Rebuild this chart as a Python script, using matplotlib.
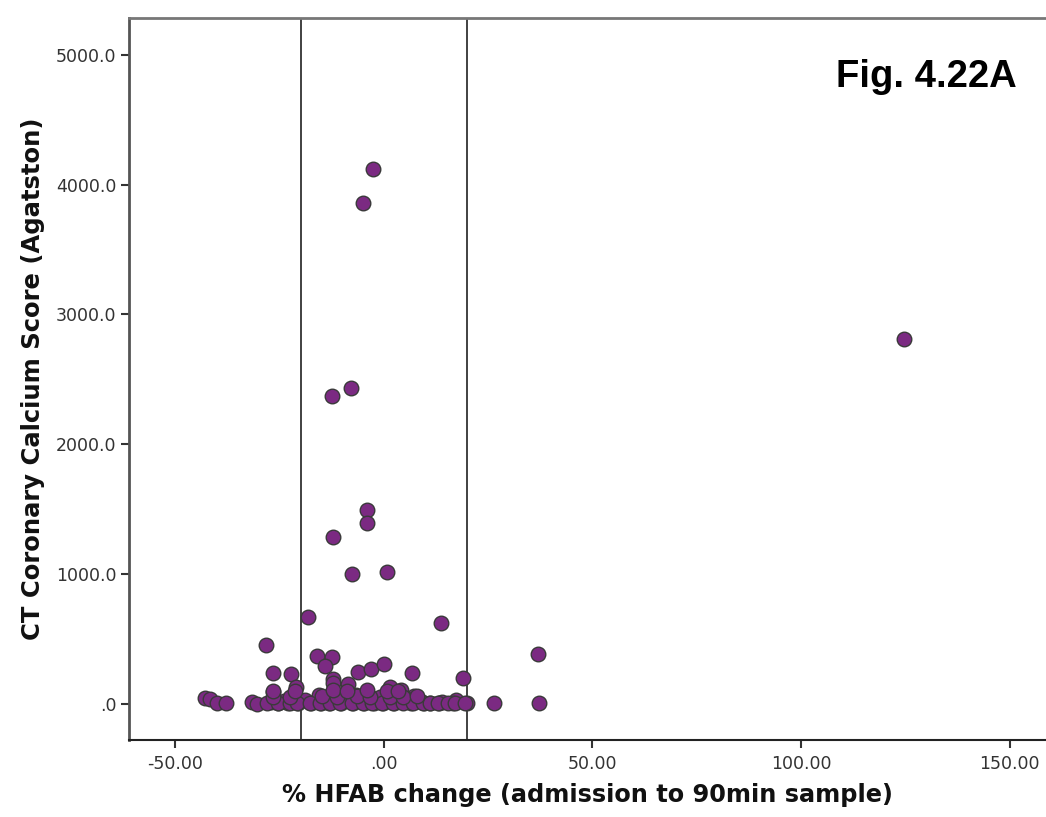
# HFAB change vs CT coronary calcium score scatter

from matplotlib import pyplot as plt

# values
hfab_big = [-2.7, -5.1, 124.7, -8.0, -12.5, -4.1, -4.1, -12.3, 0.7, -7.7,
            -18.1, 13.7, -28.4, 36.9, 37.2]
cac_big = [4122, 3860, 2812, 2435, 2373, 1495, 1394, 1287, 1017, 1002,
           670, 624, 455, 385, 8]

hfab_mid = [-16.1, -12.5, -14.2, -26.7, -22.2, -6.3, -3.1, 0.0, 6.7, -12.3,
            -12.3, -8.7, -21.2, -26.5, 19.0, 1.4, 4.1, 7.2, 17.3, 26.5]
cac_mid = [370, 362, 293, 239, 231, 247, 270, 308, 239, 193,
           162, 154, 131, 92, 200, 131, 108, 62, 31, 8]

hfab_low = [-42.9, -41.7, -40.0, -37.8, -31.6, -30.4, -27.2, -25.3,
            -22.9, -20.5, -17.6, -15.2, -13.3, -10.4, -7.5, -4.8, -2.4,
            -0.2, 2.4, 6.5, 9.6, 13.3, 16.6, 19.8,
            -15.7, -11.6, -6.7, -3.9,
            -19.0, -9.0, -1.0, 3.0, 9.0, 11.0, -24.0, -5.0, 5.0, -14.0, 14.0]
cac_low = [46, 39, 8, 8, 15, 0, 15, 8,
           5, 3, 6, 2, 8, 4, 3, 7, 2,
           5, 3, 6, 2, 4, 3, 5,
           69, 69, 69, 69,
           30, 40, 50, 20, 15, 5, 20, 25, 45, 50, 10]

hfab_row = [-28.1, -25.4, -22.5, -20.9, -17.7, -15.3, -12.9, -10.6, -7.7,
            -5.0, -2.9, -0.5, 2.2, 4.6, 7.0, 9.4, 11.0, 12.9, 15.3, 17.0, 19.4,
            -26.6, -22.5, -14.9, -11.3, -6.5, -3.4, 1.4, 4.6, 7.9,
            -26.6, -21.3, -12.2, -8.9, -4.1, 0.7, 3.4]
cac_row = [4, 6, 3, 7, 2, 5, 4, 8, 3,
           6, 2, 5, 7, 3, 4, 6, 2, 5, 3, 4, 6,
           54, 50, 56, 52, 58, 50, 54, 52, 56,
           100, 96, 104, 98, 102, 96, 100]

hfab = hfab_big + hfab_mid + hfab_low + hfab_row
cac = cac_big + cac_mid + cac_low + cac_row

ref_lines = [-20, 20]
xticks = [-50, 0, 50, 100, 150]
xticklabels = ['-50.00', '.00', '50.00', '100.00', '150.00']
yticks = [0, 1000, 2000, 3000, 4000, 5000]
yticklabels = ['.0', '1000.0', '2000.0', '3000.0', '4000.0', '5000.0']

fig = plt.figure(figsize=(10.46, 8.17), dpi=100)
ax = fig.add_axes([0.1233, 0.0943, 0.8767, 0.8837])

ax.scatter(hfab, cac, s=110, color='#7b2a82', edgecolors='#3a3a3a',
           linewidths=1.0, zorder=3)

for xv in ref_lines:
    ax.axvline(xv, color='#333333', linewidth=1.3, zorder=2)

ax.set_xlim(-61.15, 158.75)
ax.set_ylim(-280, 5285)

ax.set_xticks(xticks)
ax.set_xticklabels(xticklabels)
ax.set_yticks(yticks)
ax.set_yticklabels(yticklabels)
ax.tick_params(direction='out', length=6, width=1.5, colors='#333333',
               pad=3)
ax.tick_params(axis='x', labelsize=12.5, pad=5)
ax.tick_params(axis='y', labelsize=12.5)

ax.spines['right'].set_visible(False)
ax.spines['top'].set_color('#777777')
ax.spines['top'].set_linewidth(2)
ax.spines['left'].set_color('#555555')
ax.spines['left'].set_linewidth(2)
ax.spines['bottom'].set_color('#222222')
ax.spines['bottom'].set_linewidth(1.5)

ax.set_xlabel('% HFAB change (admission to 90min sample)', fontsize=17.3,
              fontweight='bold', color='#111111', labelpad=7)
ax.set_ylabel('CT Coronary Calcium Score (Agatston)', fontsize=17.5,
              fontweight='bold', color='#111111', labelpad=8)

fig.text(0.886, 0.906, 'Fig. 4.22A', fontsize=27.5, fontweight='bold',
         family='Liberation Sans', ha='center', va='center')

plt.savefig('out.png', dpi=100)
